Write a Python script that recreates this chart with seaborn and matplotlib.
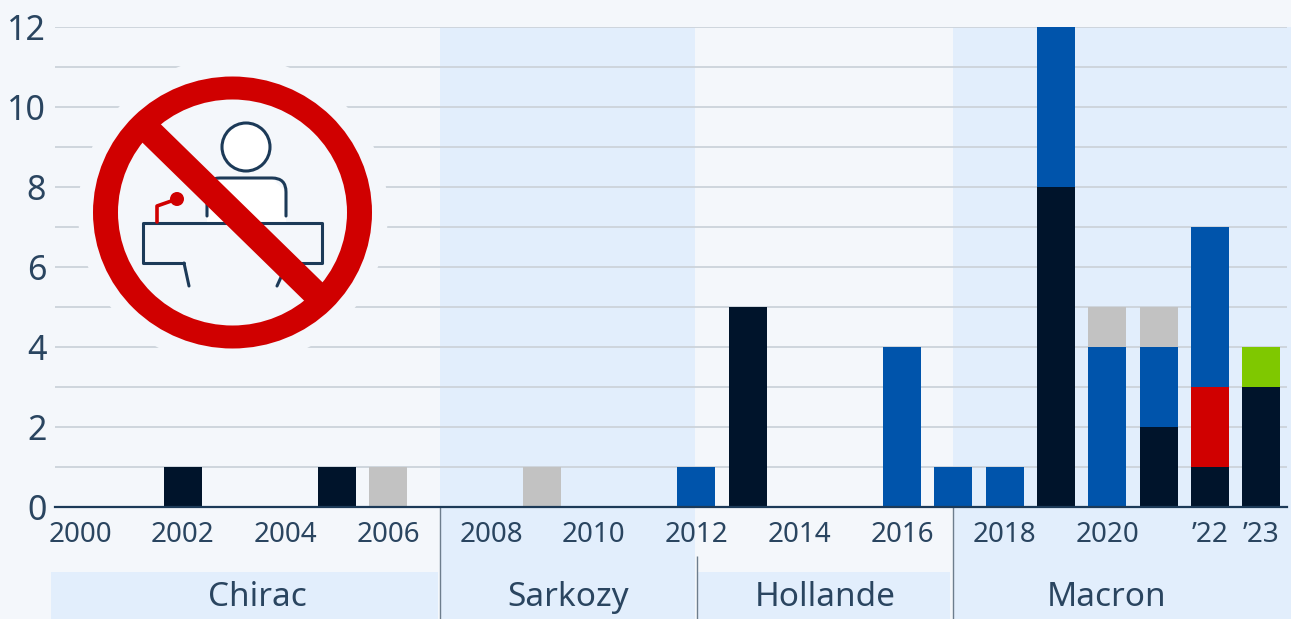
import numpy as np
import matplotlib
matplotlib.use('Agg')
import matplotlib.pyplot as plt
import seaborn as sns
from matplotlib.patches import Circle, Ellipse, Rectangle, PathPatch
from matplotlib.path import Path

years = list(range(2000, 2024))
n_dark  = [0,0,1,0,0,1,0,0,0,0,0,0,0,5,0,0,0,0,0,8,0,2,1,3]
n_red   = [0,0,0,0,0,0,0,0,0,0,0,0,0,0,0,0,0,0,0,0,0,0,2,0]
n_green = [0,0,0,0,0,0,0,0,0,0,0,0,0,0,0,0,0,0,0,0,0,0,0,1]
n_blue  = [0,0,0,0,0,0,0,0,0,0,0,0,1,0,0,0,4,1,1,4,4,2,4,0]
n_grey  = [0,0,0,0,0,0,1,0,0,1,0,0,0,0,0,0,0,0,0,0,1,1,0,0]

series = [n_dark, n_red, n_green, n_blue, n_grey]
series_colors = ['#00142b', '#d00000', '#7fc800', '#0054ab', '#c2c2c2']

tick_pos = [0,2,4,6,8,10,12,14,16,18,20,22,23]
tick_labels = ['2000','2002','2004','2006','2008','2010','2012','2014','2016','2018','2020','’22','’23']
presidents = ['Chirac', 'Sarkozy', 'Hollande', 'Macron']
president_x = [257, 568, 825, 1107]

W, H = 1291, 619
BG = '#f4f7fb'
BAND = '#e2eefc'
TXT = '#2a4560'
GRID = '#ccd3da'
NAVY = '#1c3a58'

sns.set_theme(style='white')
plt.rcParams['font.family'] = ['Noto Sans', 'DejaVu Sans']

fig = plt.figure(figsize=(W/100, H/100), dpi=100, facecolor=BG)

def px_axes(zorder):
    a = fig.add_axes([0, 0, 1, 1], zorder=zorder)
    a.set_xlim(0, W)
    a.set_ylim(H, 0)
    a.axis('off')
    a.patch.set_alpha(0)
    return a

# background bands behind the chart
bg = px_axes(0)
bg.add_patch(Rectangle((440, 27), 255, H-27, color=BAND, lw=0))
bg.add_patch(Rectangle((953, 27), W-953, H-27, color=BAND, lw=0))
bg.add_patch(Rectangle((51, 572), 387, H-572, color=BAND, lw=0))
bg.add_patch(Rectangle((698, 572), 252, H-572, color=BAND, lw=0))
bg.vlines([440, 953], 507, H, color='#6d7d8d', lw=1)
bg.vlines(697, 556, H, color='#6d7d8d', lw=1)
for name, x in zip(presidents, president_x):
    bg.text(x, 597, name, ha='center', va='center', fontsize=24, color=TXT)

# bars
ax = fig.add_axes([54.6/W, 1-507/H, (1287-54.6)/W, 480/H], zorder=1)
ax.patch.set_alpha(0)
bottom = np.zeros(len(years))
for vals, col in zip(series, series_colors):
    sns.barplot(x=years, y=vals, bottom=bottom, color=col, width=0.74,
                saturation=1, errorbar=None, linewidth=0, ax=ax, zorder=3)
    bottom = bottom + np.array(vals)

ax.set_xlim(-0.5, 23.5)
ax.set_ylim(0, 12)
ax.set_yticks(range(0, 13, 2))
ax.set_yticks(range(1, 12, 2), minor=True)
ax.set_xticks(tick_pos)
ax.set_xticklabels(tick_labels)
ax.grid(axis='y', which='both', color=GRID, lw=1.3, zorder=0)
ax.set_axisbelow(True)
ax.tick_params(axis='x', length=0, pad=10, labelsize=20, labelcolor=TXT)
ax.tick_params(axis='y', which='major', length=0, pad=6, labelsize=24.5, labelcolor=TXT)
ax.tick_params(axis='y', which='minor', length=0)
sns.despine(ax=ax, left=True, top=True, right=True)
ax.spines['bottom'].set_color(NAVY)
ax.spines['bottom'].set_linewidth(1.6)
ax.spines['bottom'].set_zorder(5)
ax.set_xlabel('')
ax.set_ylabel('')

# no-press-conference icon
ic = px_axes(2)
ic.add_patch(Circle((233, 212), 155, color=BG, lw=0))
ic.add_patch(Ellipse((232.5, 212.5), 279, 272, color='#d00000', lw=0))
ic.add_patch(Ellipse((232.5, 212.5), 229, 226, color=BG, lw=0))
ic.add_patch(Circle((246, 147), 24, fc='white', ec=NAVY, lw=2.2))
body = Path([(207,216),(207,190),(207,178),(220,178),(272,178),(286,178),(286,192),(286,216)],
            [Path.MOVETO,Path.LINETO,Path.CURVE3,Path.CURVE3,Path.LINETO,Path.CURVE3,Path.CURVE3,Path.LINETO])
ic.fill([207,207,220,272,286,286], [223,190,178,178,192,223], color='white', lw=0)
ic.add_patch(PathPatch(body, fc='none', ec=NAVY, lw=2.2, capstyle='round'))
ic.plot([184,143,143,322,322,278], [263,263,223,223,263,263], color=NAVY, lw=2.2,
        solid_joinstyle='round', solid_capstyle='round')
ic.plot([184,189], [263,286], color=NAVY, lw=2.2, solid_capstyle='round')
ic.plot([282,277], [275,286], color=NAVY, lw=2.2, solid_capstyle='round')
ic.plot([157,157,177], [222,206,199], color='#d00000', lw=2.6)
ic.add_patch(Circle((177, 199), 7, color='#d00000', lw=0))
ic.plot([145,320], [127,298], color='#d00000', lw=18.7, solid_capstyle='butt')

fig.savefig('out.png', dpi=100, facecolor=BG)
